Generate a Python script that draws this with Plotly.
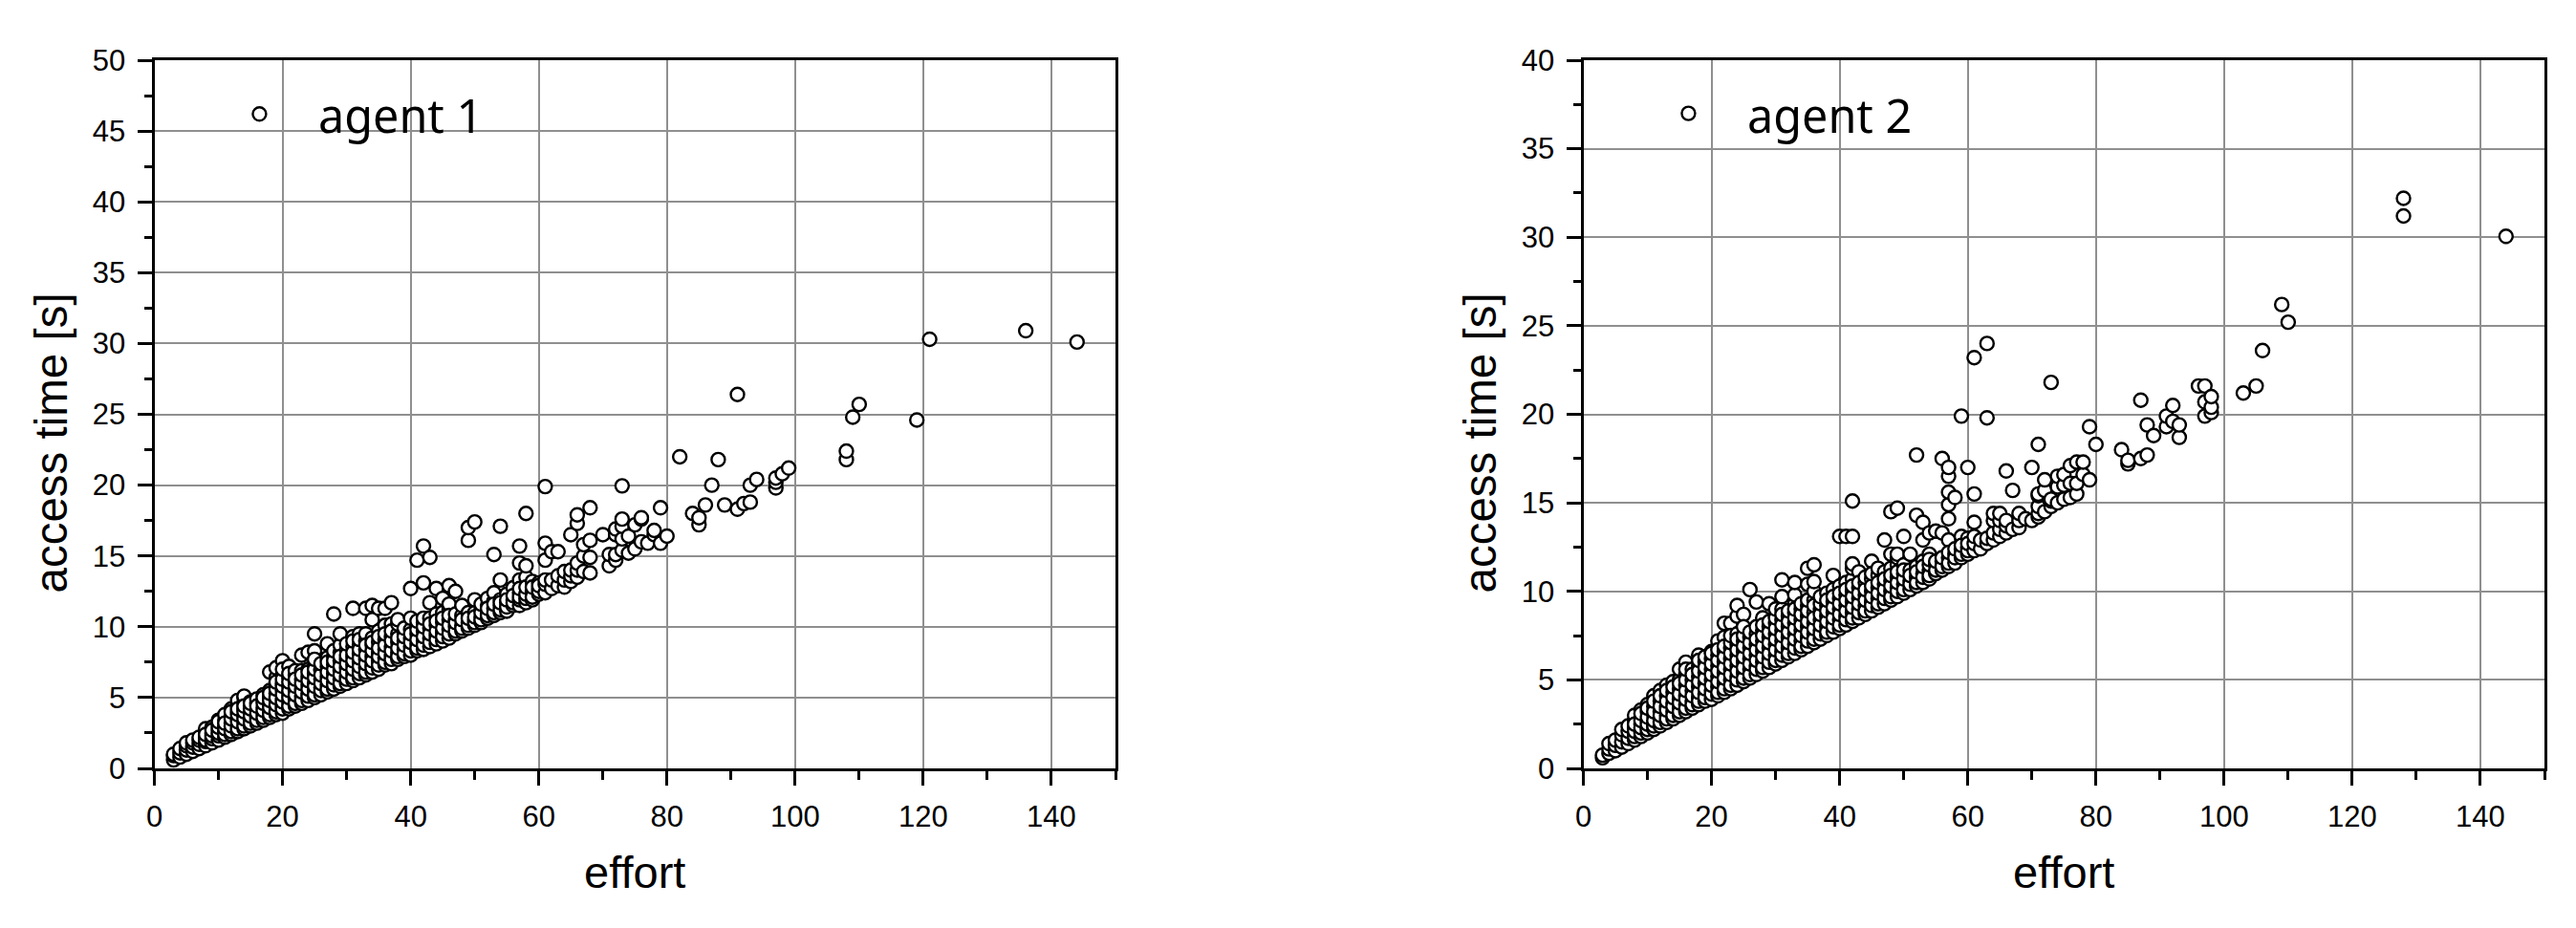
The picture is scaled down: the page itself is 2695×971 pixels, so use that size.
import plotly.graph_objects as go

# Values: one list of access times per effort value.
agent1_efforts = [3,4,5,6,7,8,9,10,11,12,13,14,15,16,17,18,19,20,21,22,23,24,25,26,27,28,29,30,31,32,33,34,35,36,37,38,39,40,
                  41,42,43,44,45,46,47,48,49,50,51,52,53,54,55,56,57,58,59,60,61,62,63,64,65,66,67,68,70,71,72,73,74,75,76,77,78,79,80,
                  82,84,85,86,87,88,89,91,92,93,94,97,98,99,108,109,110,119,121,136,144]
agent1_times = [
 [.6,.9,1.0],[.8,1.1,1.4],[1.0,1.3,1.6,1.8],[1.2,1.5,1.8,2.0],[1.4,1.7,2.0,2.2],[1.6,1.9,2.2,2.6,2.8],[1.8,2.1,2.5,2.9],
 [2.0,2.3,2.7,3.1,3.4],[2.2,2.6,3.0,3.4,3.8],[2.4,2.8,3.2,3.7,4.2],[2.6,3.0,3.5,4.0,4.4,4.8],[2.8,3.2,3.7,4.2,4.6,5.0,5.1],
 [3.0,3.4,3.9,4.4,4.7],[3.2,3.6,4.1,4.6,4.9],[3.4,3.8,4.3,4.8,5.2],[3.6,4.0,4.5,5.0,5.5,6.8],[3.8,4.3,4.8,5.3,5.8,6.4,7.1],
 [3.9,4.4,4.9,5.5,6.0,6.6,7.6],[4.2,4.7,5.3,5.8,6.4,7.2],[4.4,4.9,5.5,6.1,6.6,6.9],[4.6,5.1,5.6,6.3,6.9,8.0],[4.8,5.3,5.9,6.5,7.0,8.2],
 [5.0,5.5,6.0,6.7,7.2,8.3,9.5],[5.2,5.7,6.3,6.9,7.0],[5.4,5.9,6.5,7.2,7.8,8.8],[5.6,6.1,6.7,7.3,7.9,10.9],[5.8,6.3,6.9,7.6,8.2,8.7,9.5],
 [6.0,6.5,7.1,7.7,8.4],[6.2,6.7,7.3,7.9,8.6,9.3,11.3],[6.4,6.9,7.5,8.1,8.7,9.5],[6.6,7.1,7.7,8.4,9.0,9.5,11.3],[6.8,7.3,7.9,8.7,9.2,10.5,11.5],
 [7.0,7.6,8.2,8.9,9.7,11.3],[7.3,7.8,8.4,9.1,10.1,11.3],[7.4,8.0,8.6,9.3,10.2,11.7],[7.7,8.2,8.9,9.5,10.2,10.5],[7.9,8.4,9.0,9.5],
 [8.0,8.6,9.2,9.8,10.6,12.7],[8.3,8.8,9.5,10.1,14.7],[8.4,9.0,9.7,10.3,13.1,15.7],[8.6,9.2,9.9,10.6,11.7,14.9],[8.8,9.4,10.1,10.9,12.7],
 [9.0,9.6,10.3,11.0,12.0],[9.2,9.8,10.5,11.2,11.6,12.9],[9.5,10.0,10.5,12.5],[9.7,10.1,10.8,11.5],[9.9,10.3,10.9,11.0,16.1,17.0],
 [10.1,10.5,11.0,11.9,17.4],[10.3,10.7,11.2],[10.6,11.0,11.5,12.0],[10.8,11.3,11.8,12.4,15.1],[11.0,11.5,11.9,13.3,17.1],[11.1,11.7,12.3],
 [11.5,11.9,12.75],[11.5,11.9,12.4,13.3,14.5,15.7],[11.7,12.0,13.5,14.3,18.0],[11.9,12.5,13.2],[12.3,12.7,13.1],[12.4,13.0,13.3,14.7,15.9,19.9],
 [12.7,13.3,15.3],[12.9,13.6,15.3],[12.8,13.3,13.9],[13.2,13.6,14.0,16.5],[13.5,14.0,14.5,17.3,17.9],[13.9,15.0,15.8],[13.8,14.9,16.1,18.4],
 [16.5],[14.3,15.1],[14.7,15.1,16.5,16.9],[15.4,16.2,17.1,17.6,19.95],[15.2,16.4],[15.5,17.2],[16.0,17.6,17.7],[15.9],[16.5,16.8],[15.9,18.4],[16.4],
 [22.0],[18.0],[17.2,17.7],[18.6],[20.0],[21.8],[18.6],[18.3,26.4],[18.7],[18.8,20.0],[20.4],[19.8,20.2,20.5],[20.8],[21.2],
 [21.8,22.4],[24.8],[25.7],[24.6],[30.3],[30.9],[30.1],
]
# Further points estimated inside the dense band, for efforts 8, 9, ... 60.
agent1_band_start = 8
agent1_band_times = [
 [2.0,2.4],[2.3,2.7],[2.5,2.9,3.3],[2.4,2.8,3.2],[2.6,3.0,3.5,4.0],[2.8,3.3,3.8,4.2],[3.0,3.5,4.0,4.4],[3.2,3.7,4.2,4.6],[3.4,3.9,4.4],
 [3.6,4.1,4.6,5.0],[3.8,4.3,4.8,5.3],[4.0,4.5,5.0,5.6,6.1],[4.2,4.7,5.2,5.8,6.3,7.0],[4.4,5.0,5.5,6.1,6.7],[4.6,5.2,5.8,6.3],[4.8,5.4,6.0,6.6],
 [5.1,5.6,6.2,6.8],[5.2,5.8,6.4,7.0,7.7],[5.5,6.0,6.6,7.4],[5.6,6.2,6.8,7.5],[5.9,6.4,7.0,7.6,8.3],[6.0,6.6,7.2,7.9],[6.3,6.8,7.4,8.0,8.8],
 [6.4,7.0,7.6,8.2,9.0],[6.7,7.2,7.8,8.4,9.1],[6.8,7.4,8.0,8.7],[7.1,7.6,8.3,8.9],[7.3,7.9,8.5,9.3],[7.5,8.1,8.7,9.5],[7.7,8.3,9.0,9.7],
 [7.9,8.5,9.2],[8.1,8.7,9.3,9.9],[8.3,8.9,9.5],[8.5,9.1,9.8,10.4],[8.7,9.3,10.0,10.6],[8.9,9.5,10.2],[9.1,9.7,10.4],[9.3,9.9,10.6],[9.5,10.1,10.8],
 [9.7,10.3,10.9],[9.9,10.5],[10.1,10.6],[10.3,10.7],[10.5,11.0,11.6],[10.8,11.3],[11.0,11.6],[11.2,11.7],[11.4,11.9],[11.7,12.2],[12.1,12.7],
 [12.3,12.8],[12.1,12.8],[12.5,12.9],
]

agent2_efforts = [3,4,5,6,7,8,9,10,11,12,13,14,15,16,17,18,19,20,21,22,23,24,25,26,27,28,29,30,31,32,33,34,35,36,37,38,39,40,
                  41,42,43,44,45,46,47,48,49,50,51,52,53,54,55,56,57,58,59,60,61,62,63,64,65,66,67,68,69,70,71,72,73,74,75,76,77,78,79,80,
                  84,85,87,88,89,91,92,93,96,97,98,103,105,106,109,110,128,144]
agent2_times = [
 [.6,.75],[.85,1.1,1.4],[1.0,1.3,1.6],[1.2,1.5,1.9,2.2],[1.4,1.7,2.1,2.4],[1.6,1.9,2.3,2.7,3.0],[1.8,2.1,2.5,2.9,3.3],[2.0,2.3,2.7,3.2,3.6],
 [2.2,2.5,3.0,3.5,4.1],[2.4,2.8,3.2,3.8,4.4],[2.6,3.0,3.5,4.1,4.7],[2.8,3.2,3.7,4.3,4.9],[3.0,3.4,3.9,4.5,5.0,5.6],[3.2,3.6,4.1,4.7,5.3,6.0],
 [3.4,3.8,4.4,5.0,5.6],[3.6,4.0,4.6,5.2,5.8,6.4],[3.8,4.2,4.8,5.4,6.0],[3.9,4.4,5.0,5.6,6.2,6.6],[4.1,4.6,5.2,5.8,6.4,7.2],[4.3,4.8,5.4,6.0,6.6,7.4,8.2],
 [4.5,5.0,5.6,6.2,6.8,8.2],[4.7,5.2,5.8,6.4,7.0,7.6,8.6,9.2],[4.9,5.4,6.0,6.6,7.2,8.7],[5.1,5.6,6.2,6.8,7.4,10.1],[5.3,5.8,6.4,7.0,7.6,9.4],
 [5.5,6.0,6.6,7.2,7.8,8.5],[5.7,6.2,6.8,7.4,8.0,9.3],[5.9,6.4,7.0,7.6,8.2,8.6],[6.1,6.6,7.2,7.8,8.4,9.0,9.7,10.65],[6.3,6.8,7.4,8.0,8.6],
 [6.5,7.0,7.6,8.2,8.8,9.3,9.8,10.5],[6.7,7.2,7.8,8.4,9.0],[6.9,7.4,8.0,8.6,9.2,10.4,11.3],[7.1,7.6,8.2,8.8,9.5,10.0,10.55,11.5],[7.3,7.8,8.4,9.0],
 [7.5,8.0,8.6,9.2,9.9],[7.7,8.2,8.8,9.4,10.1,10.9],[7.9,8.4,9.0,9.6,10.3,13.1],[8.1,8.6,9.2,9.8,10.5,13.1],[8.3,8.8,9.4,10.0,10.7,11.3,11.55,13.1,15.1],
 [8.5,9.0,9.6,10.2,11.1],[8.7,9.2,9.8,10.5],[8.9,9.4,10.0,10.7,11.7],[9.1,9.6,10.2,10.9,11.3],[9.3,9.8,10.4,11.1,12.9],[9.5,10.0,10.6,11.3,12.1,14.5],
 [9.7,10.2,10.8,11.5,11.9,12.1,14.7],[9.9,10.4,11.0,11.5,13.1],[10.1,10.6,11.2,12.1],[10.3,10.8,11.4,14.3,17.7],[10.5,11.0,11.7,12.9,13.9],
 [10.7,11.2,12.1,13.3],[11.0,11.5,13.4],[11.2,11.7,13.3,17.5],[11.4,11.9,12.9,14.1,14.9,15.6,16.5,17.0],[11.6,12.1,15.3],[11.9,12.4,13.1,19.9],
 [12.1,12.5,13.0,17.0],[12.3,12.7,13.1,13.9,15.5,23.2],[12.4,12.9],[12.7,13.0,19.8,24.0],[12.9,13.3,14.0,14.4],[13.1,13.5,14.0,14.4],[13.3,13.7,14.0,16.8],
 [13.5,15.7],[13.6,14.0,14.4],[14.1],[14.0,17.0],[14.2,14.4,14.8,15.4,15.5,18.3],[14.5,15.7,16.3],[14.8,15.1,15.2,21.8],[15.0,15.9,16.5],[15.2,16.0,16.6],
 [15.3,16.1,17.1],[15.5,16.1,17.3],[16.6,17.3],[16.3,19.3],[18.3],
 [18.0],[17.2,17.4],[17.5,20.8],[17.7,19.4],[18.8],[19.3,19.9],[19.6,20.5],[18.7,19.4],[21.6],[19.9,20.7,21.6],[20.1,20.4,21.0],[21.2],[21.6],[23.6],[26.2],[25.2],[31.2,32.2],[30.05],
]
agent2_band_start = 8
agent2_band_times = [
 [1.8,2.1,2.5],[2.0,2.3,2.7,3.1],[2.2,2.5,2.9,3.4],[2.4,2.7,3.2,3.8],[2.6,3.0,3.5,4.1],[2.8,3.3,3.8,4.4],[3.0,3.5,4.0,4.6],[3.2,3.7,4.2,4.8],
 [3.4,3.9,4.4,5.0,5.6],[3.6,4.1,4.7,5.3],[3.8,4.3,4.9,5.5,6.1],[4.0,4.5,5.1,5.7,6.3],[4.2,4.7,5.3,5.9,6.5],[4.3,4.9,5.5,6.1,6.7],[4.5,5.1,5.7,6.3,6.9],
 [4.7,5.3,5.9,6.5,7.1,7.5],[5.0,5.5,6.1,6.7,7.3],[5.1,5.7,6.3,6.9,7.5,8.0],[5.3,5.9,6.5,7.1,7.7],[5.6,6.1,6.7,7.3,8.0],[5.7,6.3,6.9,7.5,8.1],[6.0,6.5,7.1,7.7,8.3],
 [6.1,6.7,7.3,7.9,8.5,9.0],[6.4,6.9,7.5,8.1,8.7],[6.5,7.1,7.7,8.3,8.9],[6.8,7.3,7.9,8.5,9.0],[6.9,7.5,8.1,8.7,9.3],[7.2,7.7,8.3,8.9,9.5],[7.3,7.9,8.5,9.2],
 [7.6,8.1,8.7,9.3,9.7],[7.7,8.3,8.9,9.5],[8.0,8.5,9.1,9.7],[8.1,8.7,9.3,9.9],[8.4,8.9,9.5,10.1],[8.5,9.1,9.7,10.3],[8.8,9.3,9.9,10.5],[8.9,9.5,10.1,10.8],
 [9.2,9.7,10.3,11.0],[9.3,9.9,10.5],[9.6,10.1,10.7],[9.7,10.3,10.9],[10.0,10.5,11.1],[10.1,10.7,11.2],[10.4,10.9],[10.5,11.1],[10.8,11.4],[10.9,11.5,11.8],
 [11.2,11.7],[11.4,11.9],[11.6,12.2],[11.9,12.4],[12.1,12.6],[12.3,12.7],
]

legend_x = [16.4, 16.4]
legend_y = [46.2, 37.0]
legend_labels = ["agent 1", "agent 2"]
x_label = "effort"
y_label = "access time [s]"
y_ranges = [50, 40]
x_tick_values = [0, 20, 40, 60, 80, 100, 120, 140]
x_minor_values = [10, 30, 50, 70, 90, 110, 130, 150]

W, H = 2695, 971
ML, MR, MT, MB = 100, 20, 20, 150
panels = [(161.5, 1167), (1656.5, 2662)]
top, bottom = 63, 804
marker = dict(symbol="circle", size=14, color="white", line=dict(color="black", width=2.4))


def px(x):
    return (x - ML) / (W - ML - MR)


def py(y):
    return (H - MB - y) / (H - MT - MB)


def flat(efforts, times, band_start, band_times):
    xs, ys = [], []
    for e, ts in zip(efforts, times):
        extra = []
        if band_start <= e < band_start + len(band_times):
            extra = band_times[e - band_start]
        for t in list(ts) + extra:
            xs.append(e)
            ys.append(t)
    return xs, ys


fig = go.Figure()
series = [(agent1_efforts, agent1_times, agent1_band_start, agent1_band_times),
          (agent2_efforts, agent2_times, agent2_band_start, agent2_band_times)]
for i, s in enumerate(series):
    xs, ys = flat(*s)
    ax = "x" if i == 0 else "x2"
    ay = "y" if i == 0 else "y2"
    fig.add_trace(go.Scatter(x=xs, y=ys, mode="markers", marker=marker, xaxis=ax, yaxis=ay,
                             name=legend_labels[i], showlegend=False, cliponaxis=False))
    fig.add_trace(go.Scatter(x=[legend_x[i]], y=[legend_y[i]], mode="markers", marker=marker, xaxis=ax, yaxis=ay,
                             showlegend=False))

axis_common = dict(
    automargin=False,
    showline=True, linecolor="black", linewidth=3, mirror=True,
    showgrid=True, gridcolor="#8f8f8f", gridwidth=2, zeroline=False,
    ticks="outside", ticklen=15, tickwidth=3, tickcolor="black",
    tickfont=dict(family="Liberation Sans", size=31, color="black"),
    ticklabelstandoff=6,
)
for i, (x0, x1) in enumerate(panels):
    sfx = "" if i == 0 else "2"
    fig.update_layout(**{
        "xaxis" + sfx: dict(axis_common, domain=[px(x0), px(x1)], range=[0, 150], anchor="y" + sfx,
                            tickvals=x_tick_values, ticktext=[str(v) for v in x_tick_values],
                            minor=dict(tickmode="array", tickvals=x_minor_values,
                                       ticks="outside", ticklen=9, tickwidth=3, tickcolor="black", showgrid=False),
                            title=dict(text=x_label, standoff=25,
                                       font=dict(family="Liberation Sans", size=47, color="black"))),
        "yaxis" + sfx: dict(axis_common, domain=[py(bottom), py(top)], range=[0, y_ranges[i]], anchor="x" + sfx,
                            dtick=5, tick0=0,
                            minor=dict(dtick=2.5, tick0=0, ticks="outside", ticklen=8, tickwidth=3, tickcolor="black",
                                       showgrid=False)),
    })
    fig.add_annotation(xref="paper", yref="paper", x=px(x0 + 169), y=py(120), text=legend_labels[i],
                       showarrow=False, xanchor="left", yanchor="middle",
                       font=dict(family="Noto Sans", size=48.5, color="black"))
    fig.add_annotation(xref="paper", yref="paper", x=px(x0 - 109), y=py(464), text=y_label, textangle=-90,
                       showarrow=False, xanchor="center", yanchor="middle",
                       font=dict(family="Liberation Sans", size=47.5, color="black"))

fig.update_layout(width=W, height=H, margin=dict(l=ML, r=MR, t=MT, b=MB), plot_bgcolor="white", paper_bgcolor="white",
                  showlegend=False)
fig.write_html("out.html", config={"displayModeBar": False}, post_script="document.body.style.margin='0';")
